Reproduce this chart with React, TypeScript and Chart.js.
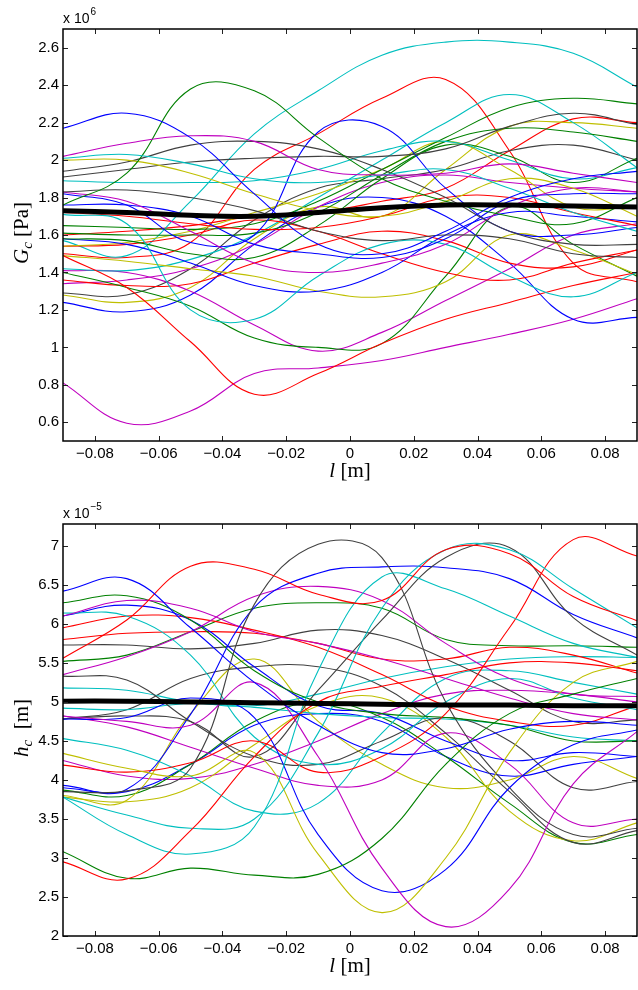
import React, { useEffect, useRef } from "react";
import { Chart, registerables } from "chart.js";

Chart.register(...registerables);

// ---------- shared x data ----------
const X_POS = [-0.09, -0.07, -0.05, -0.03, -0.01, 0.01, 0.03, 0.05, 0.07, 0.09];
const X_TICKS = [-0.08, -0.06, -0.04, -0.02, 0, 0.02, 0.04, 0.06, 0.08];
const X_TICK_LABELS = ["\u22120.08", "\u22120.06", "\u22120.04", "\u22120.02", "0", "0.02", "0.04", "0.06", "0.08"];

// ---------- top chart: G_c (x 10^6 Pa) ----------
const G_TICKS = [0.6, 0.8, 1, 1.2, 1.4, 1.6, 1.8, 2, 2.2, 2.4, 2.6];
const G_TICK_LABELS = ["0.6", "0.8", "1", "1.2", "1.4", "1.6", "1.8", "2", "2.2", "2.4", "2.6"];

const G_MEAN = [1.73, 1.72, 1.705, 1.7, 1.72, 1.745, 1.76, 1.76, 1.755, 1.75];
const G_BLUE_1 = [2.17, 2.25, 2.12, 1.82, 1.55, 1.5, 1.62, 1.8, 1.9, 1.94];
const G_MAGENTA_1 = [2.02, 2.09, 2.13, 2.1, 1.95, 1.92, 1.93, 1.98, 1.93, 1.88];
const G_CYAN_1 = [2.01, 2.03, 1.98, 1.9, 1.88, 1.92, 1.95, 1.85, 1.72, 1.62];
const G_GREEN_1 = [1.76, 1.93, 2.38, 2.37, 2.12, 1.9, 1.78, 1.7, 1.66, 1.8];
const G_YELLOW_1 = [2.0, 2.0, 1.93, 1.82, 1.73, 1.7, 1.78, 1.9, 1.85, 1.7];
const G_GRAY_1 = [1.94, 1.99, 2.08, 2.1, 2.06, 1.95, 1.8, 1.62, 1.55, 1.55];
const G_GRAY_2 = [1.91, 1.95, 1.99, 2.01, 2.02, 2.02, 2.06, 2.18, 2.25, 2.19];
const G_CYAN_2 = [1.89, 1.88, 1.88, 1.89, 1.95, 2.05, 2.1, 2.0, 1.9, 1.96];
const G_GRAY_3 = [1.83, 1.84, 1.8, 1.73, 1.62, 1.57, 1.6, 1.58, 1.5, 1.48];
const G_MAGENTA_2 = [1.83, 1.78, 1.62, 1.45, 1.4, 1.45, 1.55, 1.75, 1.85, 1.83];
const G_BLUE_2 = [1.82, 1.76, 1.56, 1.6, 2.15, 2.18, 1.85, 1.62, 1.6, 1.64];
const G_BLUE_3 = [1.76, 1.76, 1.7, 1.55, 1.5, 1.48, 1.58, 1.78, 1.82, 1.82];
const G_CYAN_3 = [1.71, 1.66, 1.2, 1.15, 1.38, 1.55, 1.55, 1.38, 1.27, 1.4];
const G_RED_1 = [1.72, 1.7, 1.66, 1.63, 1.64, 1.7, 1.8, 1.8, 1.72, 1.65];
const G_GREEN_2 = [1.65, 1.64, 1.63, 1.66, 1.78, 1.95, 2.12, 2.28, 2.33, 2.3];
const G_GREEN_3 = [1.61, 1.6, 1.6, 1.61, 1.72, 1.92, 2.1, 2.17, 2.15, 2.1];
const G_GREEN_4 = [1.58, 1.57, 1.5, 1.48, 1.65, 1.9, 2.08, 2.02, 1.88, 2.01];
const G_BLUE_4 = [1.58, 1.55, 1.45, 1.33, 1.3, 1.4, 1.6, 1.72, 1.7, 1.67];
const G_YELLOW_2 = [1.54, 1.56, 1.62, 1.72, 1.82, 1.95, 2.1, 1.95, 1.75, 1.75];
const G_RED_2 = [1.54, 1.55, 1.6, 1.68, 1.62, 1.5, 1.4, 1.36, 1.45, 1.52];
const G_RED_3 = [1.49, 1.32, 1.03, 0.75, 0.86, 1.02, 1.15, 1.24, 1.33, 1.4];
const G_YELLOW_3 = [1.49, 1.46, 1.42, 1.38, 1.3, 1.27, 1.35, 1.6, 1.52, 1.39];
const G_CYAN_4 = [1.42, 1.41, 1.47, 1.6, 1.8, 2.0, 2.2, 2.35, 2.2, 1.96];
const G_GREEN_5 = [1.4, 1.32, 1.22, 1.05, 1.0, 1.02, 1.38, 1.75, 1.55, 1.38];
const G_MAGENTA_3 = [1.41, 1.4, 1.3, 1.12, 0.98, 1.08, 1.25, 1.42, 1.6, 1.66];
const G_RED_4 = [1.36, 1.33, 1.34, 1.45, 1.55, 1.62, 1.57, 1.45, 1.43, 1.52];
const G_MAGENTA_4 = [1.34, 1.36, 1.42, 1.55, 1.75, 1.88, 1.92, 1.88, 1.85, 1.83];
const G_GRAY_4 = [1.29, 1.28, 1.42, 1.68, 1.85, 1.9, 1.95, 2.05, 2.08, 2.0];
const G_YELLOW_4 = [1.28, 1.24, 1.32, 1.58, 1.75, 1.7, 1.95, 2.18, 2.2, 2.17];
const G_BLUE_5 = [1.24, 1.19, 1.28, 1.55, 1.75, 1.8, 1.7, 1.45, 1.15, 1.16];
const G_MAGENTA_5 = [0.81, 0.595, 0.66, 0.86, 0.89, 0.93, 1.0, 1.07, 1.15, 1.26];
const G_CYAN_5 = [1.57, 1.49, 1.78, 2.14, 2.37, 2.56, 2.63, 2.63, 2.57, 2.39];
const G_RED_5 = [1.5, 1.48, 1.56, 1.95, 2.14, 2.33, 2.43, 2.05, 1.45, 1.35];
const G_RED_6 = [1.6, 1.62, 1.65, 1.7, 1.72, 1.78, 1.85, 2.05, 2.22, 2.2];

// ---------- bottom chart: h_c (x 10^-5 m) ----------
const H_TICKS = [2, 2.5, 3, 3.5, 4, 4.5, 5, 5.5, 6, 6.5, 7];
const H_TICK_LABELS = ["2", "2.5", "3", "3.5", "4", "4.5", "5", "5.5", "6", "6.5", "7"];

const H_MEAN = [5.01, 5.01, 5.0, 4.99, 4.98, 4.97, 4.96, 4.96, 4.95, 4.95];
const H_BLUE_1 = [6.42, 6.58, 5.95, 5.25, 4.7, 4.35, 4.4, 4.65, 4.75, 4.7];
const H_RED_1 = [5.56, 6.05, 6.74, 6.7, 6.38, 6.3, 6.95, 6.9, 6.35, 6.04];
const H_RED_2 = [2.95, 2.73, 3.35, 4.3, 5.0, 5.2, 5.35, 5.5, 5.5, 5.4];
const H_GREEN_1 = [3.08, 2.74, 2.87, 2.78, 2.79, 3.25, 4.2, 4.85, 5.1, 5.3];
const H_CYAN_1 = [3.78, 3.55, 3.38, 3.5, 4.6, 6.2, 6.95, 6.95, 6.45, 5.95];
const H_CYAN_2 = [3.78, 3.3, 3.05, 3.4, 5.4, 6.6, 6.45, 6.1, 5.75, 5.57];
const H_MAGENTA_1 = [4.82, 4.75, 4.7, 5.25, 4.3, 2.87, 2.12, 2.6, 3.95, 4.62];
const H_YELLOW_1 = [4.34, 4.15, 4.05, 4.35, 3.05, 2.3, 3.0, 4.35, 5.25, 5.52];
const H_BLUE_2 = [4.78, 4.8, 5.05, 4.8, 3.3, 2.58, 2.85, 3.9, 4.45, 4.64];
const H_GRAY_1 = [3.85, 3.86, 4.15, 6.25, 7.02, 6.85, 5.0, 3.9, 3.3, 3.38];
const H_GRAY_2 = [4.78, 4.82, 4.75, 4.3, 5.15, 6.05, 6.85, 6.98, 6.08, 5.6];
const H_BLUE_3 = [3.93, 3.88, 4.84, 6.21, 6.65, 6.73, 6.72, 6.58, 6.12, 5.82];
const H_RED_3 = [4.19, 4.1, 4.22, 4.5, 4.1, 4.3, 4.85, 5.95, 7.08, 6.87];
const H_MAGENTA_2 = [5.35, 5.58, 5.9, 6.35, 6.48, 6.3, 5.75, 5.3, 5.1, 5.07];
const H_MAGENTA_3 = [6.1, 6.3, 6.2, 5.9, 5.75, 5.55, 5.3, 5.05, 4.85, 4.77];
const H_GREEN_2 = [6.27, 6.36, 6.05, 5.4, 5.0, 4.85, 4.8, 4.7, 4.5, 4.5];
const H_CYAN_3 = [6.14, 6.1, 5.6, 4.55, 4.2, 4.4, 5.0, 5.3, 5.05, 4.9];
const H_BLUE_4 = [6.1, 6.24, 6.05, 5.45, 4.95, 4.85, 4.5, 4.25, 4.35, 4.3];
const H_RED_4 = [5.95, 6.1, 6.08, 5.92, 5.7, 5.35, 4.95, 4.75, 4.7, 4.95];
const H_RED_5 = [5.8, 5.88, 5.9, 5.88, 5.75, 5.55, 5.55, 5.7, 5.6, 5.37];
const H_GRAY_3 = [5.73, 5.73, 5.68, 5.75, 5.92, 5.85, 5.55, 5.15, 4.75, 4.77];
const H_GREEN_3 = [5.52, 5.6, 5.9, 6.2, 6.27, 6.2, 5.8, 5.72, 5.72, 5.7];
const H_GRAY_4 = [5.33, 5.28, 4.75, 4.3, 4.2, 4.5, 4.8, 4.5, 3.9, 3.98];
const H_CYAN_4 = [5.18, 5.15, 5.0, 4.95, 5.1, 5.3, 5.45, 5.55, 5.58, 5.57];
const H_CYAN_5 = [4.92, 4.9, 4.98, 4.93, 4.85, 4.8, 4.78, 4.7, 4.55, 4.5];
const H_GRAY_5 = [4.78, 4.9, 5.3, 5.45, 5.45, 5.2, 4.6, 3.85, 3.2, 3.35];
const H_MAGENTA_4 = [4.82, 4.68, 4.42, 4.15, 3.93, 4.0, 4.6, 4.2, 3.45, 3.5];
const H_CYAN_6 = [4.53, 4.38, 4.05, 3.6, 3.7, 4.6, 5.3, 5.4, 5.25, 5.1];
const H_YELLOW_2 = [3.8, 3.74, 4.85, 5.55, 4.75, 4.2, 3.9, 4.0, 4.3, 4.02];
const H_YELLOW_3 = [3.78, 3.72, 3.9, 4.45, 4.95, 5.05, 4.55, 3.6, 3.22, 3.45];
const H_GREEN_4 = [3.87, 3.8, 4.2, 4.75, 5.0, 4.8, 4.3, 3.7, 3.2, 3.3];
const H_MAGENTA_5 = [4.25, 4.05, 4.02, 4.2, 4.5, 4.85, 5.1, 5.15, 5.1, 5.0];
const H_BLUE_5 = [3.9, 3.85, 4.2, 4.7, 4.85, 4.75, 4.3, 4.05, 4.2, 4.3];

// ---------- colours ----------
const C_BLUE = "#0000ff";
const C_GREEN = "#008000";
const C_RED = "#ff0000";
const C_CYAN = "#00bfbf";
const C_MAGENTA = "#bf00bf";
const C_YELLOW = "#bfbf00";
const C_GRAY = "#404040";

const G_SERIES = [
  [G_BLUE_1, C_BLUE], [G_MAGENTA_1, C_MAGENTA], [G_CYAN_1, C_CYAN], [G_GREEN_1, C_GREEN],
  [G_YELLOW_1, C_YELLOW], [G_GRAY_1, C_GRAY], [G_GRAY_2, C_GRAY], [G_CYAN_2, C_CYAN],
  [G_GRAY_3, C_GRAY], [G_MAGENTA_2, C_MAGENTA], [G_BLUE_2, C_BLUE], [G_BLUE_3, C_BLUE],
  [G_CYAN_3, C_CYAN], [G_RED_1, C_RED], [G_GREEN_2, C_GREEN], [G_GREEN_3, C_GREEN],
  [G_GREEN_4, C_GREEN], [G_BLUE_4, C_BLUE], [G_YELLOW_2, C_YELLOW], [G_RED_2, C_RED],
  [G_RED_3, C_RED], [G_YELLOW_3, C_YELLOW], [G_CYAN_4, C_CYAN], [G_GREEN_5, C_GREEN],
  [G_MAGENTA_3, C_MAGENTA], [G_RED_4, C_RED], [G_MAGENTA_4, C_MAGENTA], [G_GRAY_4, C_GRAY],
  [G_YELLOW_4, C_YELLOW], [G_BLUE_5, C_BLUE], [G_MAGENTA_5, C_MAGENTA], [G_CYAN_5, C_CYAN],
  [G_RED_5, C_RED], [G_RED_6, C_RED],
];

const H_SERIES = [
  [H_BLUE_1, C_BLUE], [H_RED_1, C_RED], [H_RED_2, C_RED], [H_GREEN_1, C_GREEN],
  [H_CYAN_1, C_CYAN], [H_CYAN_2, C_CYAN], [H_MAGENTA_1, C_MAGENTA], [H_YELLOW_1, C_YELLOW],
  [H_BLUE_2, C_BLUE], [H_GRAY_1, C_GRAY], [H_GRAY_2, C_GRAY], [H_BLUE_3, C_BLUE],
  [H_RED_3, C_RED], [H_MAGENTA_2, C_MAGENTA], [H_MAGENTA_3, C_MAGENTA], [H_GREEN_2, C_GREEN],
  [H_CYAN_3, C_CYAN], [H_BLUE_4, C_BLUE], [H_RED_4, C_RED], [H_RED_5, C_RED],
  [H_GRAY_3, C_GRAY], [H_GREEN_3, C_GREEN], [H_GRAY_4, C_GRAY], [H_CYAN_4, C_CYAN],
  [H_CYAN_5, C_CYAN], [H_GRAY_5, C_GRAY], [H_MAGENTA_4, C_MAGENTA], [H_CYAN_6, C_CYAN],
  [H_YELLOW_2, C_YELLOW], [H_YELLOW_3, C_YELLOW], [H_GREEN_4, C_GREEN], [H_MAGENTA_5, C_MAGENTA],
  [H_BLUE_5, C_BLUE],
];

const SANS = '"Liberation Sans", Arial, Helvetica, sans-serif';
const SERIF = '"Liberation Serif", "Times New Roman", serif';

type Part = { text: string; font: string; dy?: number };

function drawRich(ctx: CanvasRenderingContext2D, parts: Part[], x: number, y: number, center: boolean) {
  let total = 0;
  for (const p of parts) {
    ctx.font = p.font;
    total += ctx.measureText(p.text).width;
  }
  let cx = center ? x - total / 2 : x;
  ctx.textAlign = "left";
  ctx.textBaseline = "alphabetic";
  for (const p of parts) {
    ctx.font = p.font;
    ctx.fillText(p.text, cx, y + (p.dy || 0));
    cx += ctx.measureText(p.text).width;
  }
}

function makeConfig(
  series: any[],
  mean: number[],
  yMin: number,
  yMax: number,
  yTicks: number[],
  yLabels: string[],
  expo: string,
  yTitle: Part[]
): any {
  const toPts = (arr: number[]) => arr.map((y, i) => ({ x: X_POS[i], y }));
  const datasets: any[] = [
    {
      data: toPts(mean),
      borderColor: "#000000",
      borderWidth: 5,
      tension: 0.4,
      pointRadius: 0,
      fill: false,
    },
    ...series.map(([arr, color]) => ({
      data: toPts(arr),
      borderColor: color,
      borderWidth: 1.1,
      tension: 0.4,
      pointRadius: 0,
      fill: false,
    })),
  ];

  const framePlugin = {
    id: "frameAndTitles",
    afterDraw(chart: any) {
      const { ctx, chartArea: a, scales } = chart;
      ctx.save();
      // tick marks on all four sides, pointing inward
      ctx.strokeStyle = "#222";
      ctx.lineWidth = 1;
      const tl = 5;
      ctx.beginPath();
      for (const v of X_TICKS) {
        const px = Math.round(scales.x.getPixelForValue(v)) + 0.5;
        ctx.moveTo(px, a.bottom);
        ctx.lineTo(px, a.bottom - tl);
        ctx.moveTo(px, a.top);
        ctx.lineTo(px, a.top + tl);
      }
      for (const v of yTicks) {
        const py = Math.round(scales.y.getPixelForValue(v)) + 0.5;
        ctx.moveTo(a.left, py);
        ctx.lineTo(a.left + tl, py);
        ctx.moveTo(a.right, py);
        ctx.lineTo(a.right - tl, py);
      }
      ctx.stroke();
      // frame
      ctx.strokeStyle = "#000";
      ctx.lineWidth = 1.5;
      ctx.strokeRect(a.left, a.top, a.right - a.left, a.bottom - a.top);

      // exponent label
      ctx.fillStyle = "#000";
      ctx.textAlign = "left";
      ctx.textBaseline = "alphabetic";
      ctx.font = `14px ${SANS}`;
      ctx.fillText("x 10", a.left, 23);
      const w = ctx.measureText("x 10").width;
      ctx.font = `10px ${SANS}`;
      ctx.fillText(expo, a.left + w + 1, 15);

      // x title
      drawRich(
        ctx,
        [
          { text: "l", font: `italic 21px ${SERIF}` },
          { text: " [m]", font: `21px ${SERIF}` },
        ],
        (a.left + a.right) / 2,
        477,
        true
      );

      // y title
      ctx.save();
      ctx.translate(28, (a.top + a.bottom) / 2 - 2);
      ctx.rotate(-Math.PI / 2);
      drawRich(ctx, yTitle, 0, 0, true);
      ctx.restore();

      ctx.restore();
    },
  };

  return {
    type: "line",
    data: { datasets },
    options: {
      animation: false,
      responsive: false,
      events: [],
      layout: { padding: { top: 29, right: 1, left: 0, bottom: 0 } },
      plugins: { legend: { display: false }, tooltip: { enabled: false } },
      scales: {
        x: {
          type: "linear",
          min: -0.09,
          max: 0.09,
          grid: { display: false, drawTicks: false },
          border: { display: false },
          afterBuildTicks: (s: any) => {
            s.ticks = X_TICKS.map((v) => ({ value: v }));
          },
          afterFit: (s: any) => {
            s.height = 54;
          },
          ticks: {
            autoSkip: false,
            maxRotation: 0,
            minRotation: 0,
            padding: 4,
            color: "#000",
            font: { family: SANS, size: 15 },
            callback: (_v: any, i: number) => X_TICK_LABELS[i],
          },
        },
        y: {
          type: "linear",
          min: yMin,
          max: yMax,
          grid: { display: false, drawTicks: false },
          border: { display: false },
          afterBuildTicks: (s: any) => {
            s.ticks = yTicks.map((v) => ({ value: v }));
          },
          afterFit: (s: any) => {
            s.width = 63;
          },
          ticks: {
            autoSkip: false,
            padding: 4,
            color: "#000",
            font: { family: SANS, size: 15 },
            callback: (_v: any, i: number) => yLabels[i],
          },
        },
      },
    },
    plugins: [framePlugin],
  };
}

export default function App() {
  const topRef = useRef<HTMLCanvasElement | null>(null);
  const botRef = useRef<HTMLCanvasElement | null>(null);

  useEffect(() => {
    const charts: Chart[] = [];
    if (topRef.current) {
      charts.push(
        new Chart(
          topRef.current,
          makeConfig(G_SERIES, G_MEAN, 0.5, 2.7, G_TICKS, G_TICK_LABELS, "6", [
            { text: "G", font: `italic 21px ${SERIF}` },
            { text: "c", font: `italic 15px ${SERIF}`, dy: 4 },
            { text: " [Pa]", font: `21px ${SERIF}` },
          ])
        )
      );
    }
    if (botRef.current) {
      charts.push(
        new Chart(
          botRef.current,
          makeConfig(H_SERIES, H_MEAN, 2, 7.28, H_TICKS, H_TICK_LABELS, "\u22125", [
            { text: "h", font: `italic 21px ${SERIF}` },
            { text: "c", font: `italic 15px ${SERIF}`, dy: 4 },
            { text: "  [m]", font: `21px ${SERIF}` },
          ])
        )
      );
    }
    return () => {
      charts.forEach((c) => c.destroy());
    };
  }, []);

  return (
    <div
      style={{
        position: "absolute",
        left: 0,
        top: 0,
        width: 638,
        height: 990,
        background: "#ffffff",
      }}
    >
      <canvas
        ref={topRef}
        width={638}
        height={495}
        style={{ position: "absolute", left: 0, top: 0, width: 638, height: 495 }}
      />
      <canvas
        ref={botRef}
        width={638}
        height={495}
        style={{ position: "absolute", left: 0, top: 495, width: 638, height: 495 }}
      />
    </div>
  );
}
